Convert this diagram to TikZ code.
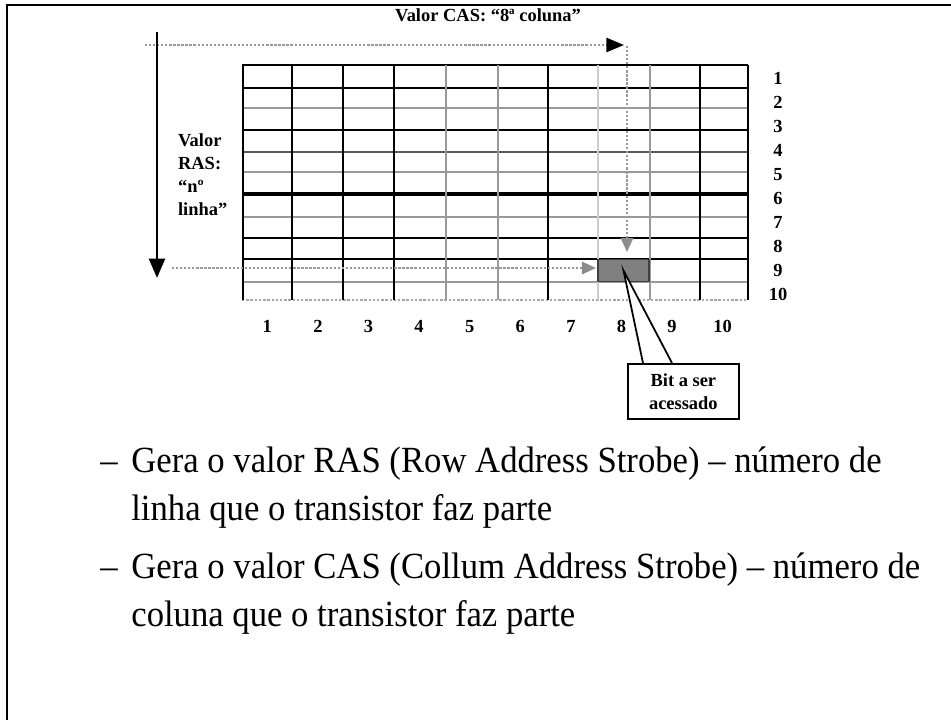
\documentclass[tikz,border=0pt]{standalone}
\usepackage{fontspec}
\setmainfont{Liberation Serif}
\usetikzlibrary{arrows.meta}

\tikzset{
  gridblack/.style={line width=1.1pt, black},
  gridthick/.style={line width=2.2pt, black},
  griddark/.style={line width=1.4pt, black!65},
  gridgray/.style={line width=1.6pt, black!40},
  gridlight/.style={line width=1.2pt, black!20},
  griddot/.style={line width=1.4pt, black!35, densely dotted},
  pathdot/.style={line width=1.3pt, black!40, densely dotted},
  smalllabel/.style={font=\bfseries\fontsize{10.5}{13}\selectfont, inner sep=1pt},
  numlabel/.style={smalllabel, anchor=base},
  bullettext/.style={font=\fontsize{21}{25}\selectfont, anchor=base west, inner sep=0pt},
}
\newcommand{\slideline}[1]{\scalebox{0.94}[1]{#1}}

\begin{document}
\begin{tikzpicture}[x=0.02cm,y=-0.02cm]
    \useasboundingbox (0,0) rectangle (951,720);

    % slide frame
    \draw[line width=1.6pt] (7,720) -- (7,5) -- (951,5);

    % memory matrix
    \foreach \y/\s in {65/gridblack, 88/gridblack, 108/gridgray, 130/gridblack,
        152/griddark, 172/gridgray, 194/gridthick, 217/gridgray, 238/gridblack,
        259/gridblack, 282/gridgray, 300/griddot}
        \draw[\s] (242,\y) -- (748,\y);
    \foreach \x/\s in {243/gridblack, 292/gridblack, 343/gridblack, 394/gridblack,
        446/gridgray, 498/gridgray, 548/gridblack, 598/gridlight, 650/gridgray,
        700/gridblack, 748/gridblack}
        \draw[\s] (\x,65) -- (\x,300);

    \node[draw=black!75, fill=black!50, line width=0.8pt, inner sep=0pt,
          minimum width=1.02cm, minimum height=0.44cm] (bit) at (623.5,270.5) {};

    % CAS and RAS paths
    \coordinate (casstart) at (145,45);
    \coordinate (castip) at (624,45);
    \coordinate (downstart) at (627,46);
    \coordinate (downtip) at (627,252);
    \coordinate (rastop) at (157,32);
    \coordinate (rastip) at (157,278);
    \coordinate (rowstart) at (172,268);
    \coordinate (rowtip) at (596,268);

    \draw[pathdot, -{Triangle[black, length=10pt, width=8pt]}] (casstart) -- (castip);
    \draw[pathdot, -{Triangle[black!45, length=8pt, width=7pt]}] (downstart) -- (downtip);
    \draw[line width=1.6pt, -{Triangle[length=11pt, width=9pt]}] (rastop) -- (rastip);
    \draw[pathdot, -{Triangle[black!45, length=8pt, width=7pt]}] (rowstart) -- (rowtip);

    \node[smalllabel] (cas) at (488,15) {Valor CAS: “8ª coluna”};
    \node[smalllabel, align=left, anchor=north west] (ras) at (176,132)
        {Valor\\RAS:\\“nº\\linha”};

    % row and column numbers
    \foreach \i in {1,...,10}
        \node[numlabel] (r\i) at (778,{60+24*\i}) {\i};
    \foreach \i in {1,...,10}
        \node[numlabel] (c\i) at ({242+50.6*(\i-0.5)},332) {\i};

    % callout
    \coordinate (calla) at (643,363);
    \coordinate (callb) at (672,363);
    \draw[fill=white, line width=1pt] (calla) -- (bit.center) -- (callb);
    \node[draw, fill=white, line width=1pt, smalllabel, align=center,
          minimum width=2.22cm, minimum height=1.1cm, anchor=north west] (callout) at (627,363)
        {Bit a ser\\acessado};

    % bullet lines
    \node[bullettext] (d1) at (100,472) {\slideline{–}};
    \node[bullettext] (t1) at (131,472) {\slideline{Gera o valor RAS (Row Address Strobe) – número de}};
    \node[bullettext] (t2) at (131,520) {\slideline{linha que o transistor faz parte}};
    \node[bullettext] (d3) at (100,578) {\slideline{–}};
    \node[bullettext] (t3) at (131,578) {\slideline{Gera o valor CAS (Collum Address Strobe) – número de}};
    \node[bullettext] (t4) at (131,626) {\slideline{coluna que o transistor faz parte}};
\end{tikzpicture}
\end{document}
